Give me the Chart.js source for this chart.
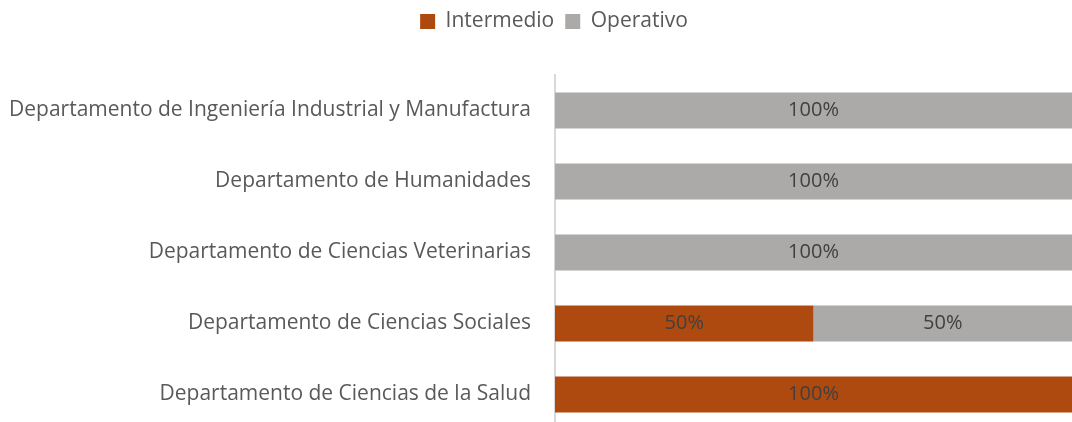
<!DOCTYPE html>
<html>
<head>
<meta charset="utf-8">
<script src="https://cdn.jsdelivr.net/npm/chart.js@4.4.0/dist/chart.umd.min.js"></script>
<style>
  html, body { margin: 0; padding: 0; background: #fff; overflow: hidden; }
  #myChart { display: block; }
</style>
</head>
<body>
<canvas id="myChart" width="1072" height="430"></canvas>
<script>
    "use strict";

    const categories = [
        "Departamento de Ingeniería Industrial y Manufactura",
        "Departamento de Humanidades",
        "Departamento de Ciencias Veterinarias",
        "Departamento de Ciencias Sociales",
        "Departamento de Ciencias de la Salud",
    ];
    const intermedio = [0, 0, 0, 50, 100];
    const operativo = [100, 100, 100, 50, 0];

    const FONT = "'Open Sans', Lato, sans-serif";

    // draws the percentage in the middle of each bar segment
    const barLabels = {
        id: "barLabels",
        afterDatasetsDraw(chart) {
            const ctx = chart.ctx;
            ctx.save();
            ctx.font = "20px " + FONT;
            ctx.fillStyle = "#404040";
            ctx.textAlign = "center";
            ctx.textBaseline = "middle";
            chart.data.datasets.forEach(function (ds, i) {
                chart.getDatasetMeta(i).data.forEach(function (bar, j) {
                    const v = ds.data[j];
                    if (!v) return;
                    const cx = (bar.x + bar.base) / 2;
                    ctx.fillText(v + "%", cx, bar.y);
                });
            });
            ctx.restore();
        },
    };

    // extra room between legend and plot, and nudge legend a bit right
    const legendTweak = {
        id: "legendTweak",
        beforeInit(chart) {
            const lg = chart.legend;
            const fit = lg.fit;
            lg.fit = function () {
                fit.call(this);
                this.height += 33;
            };
            const draw = lg.draw;
            lg.draw = function () {
                this.ctx.save();
                this.ctx.translate(18, 0);
                draw.call(this);
                this.ctx.restore();
            };
        },
    };

    new Chart(document.getElementById("myChart"), {
        type: "bar",
        data: {
            labels: categories,
            datasets: [
                {
                    label: "Intermedio",
                    data: intermedio,
                    backgroundColor: "#AE4A10",
                    categoryPercentage: 1,
                    barPercentage: 0.51,
                },
                {
                    label: "Operativo",
                    data: operativo,
                    backgroundColor: "#ABAAA8",
                    categoryPercentage: 1,
                    barPercentage: 0.51,
                },
            ],
        },
        options: {
            indexAxis: "y",
            responsive: false,
            animation: false,
            layout: { padding: 0 },
            plugins: {
                legend: {
                    position: "top",
                    labels: {
                        boxWidth: 15,
                        boxHeight: 15,
                        padding: 11,
                        color: "#595959",
                        font: { family: FONT, size: 21 },
                    },
                },
                tooltip: { enabled: false },
            },
            scales: {
                x: {
                    stacked: true,
                    min: 0,
                    max: 100,
                    display: false,
                },
                y: {
                    stacked: true,
                    grid: { display: false, drawTicks: false },
                    border: { display: true, color: "#D9D9D9", width: 2 },
                    ticks: {
                        padding: 24,
                        color: "#595959",
                        font: { family: FONT, size: 21 },
                    },
                    afterFit: function (scale) {
                        scale.width = 555;
                        scale.paddingTop = 0;
                        scale.paddingBottom = 0;
                    },
                },
            },
        },
        plugins: [barLabels, legendTweak],
    });
</script>
</body>
</html>
